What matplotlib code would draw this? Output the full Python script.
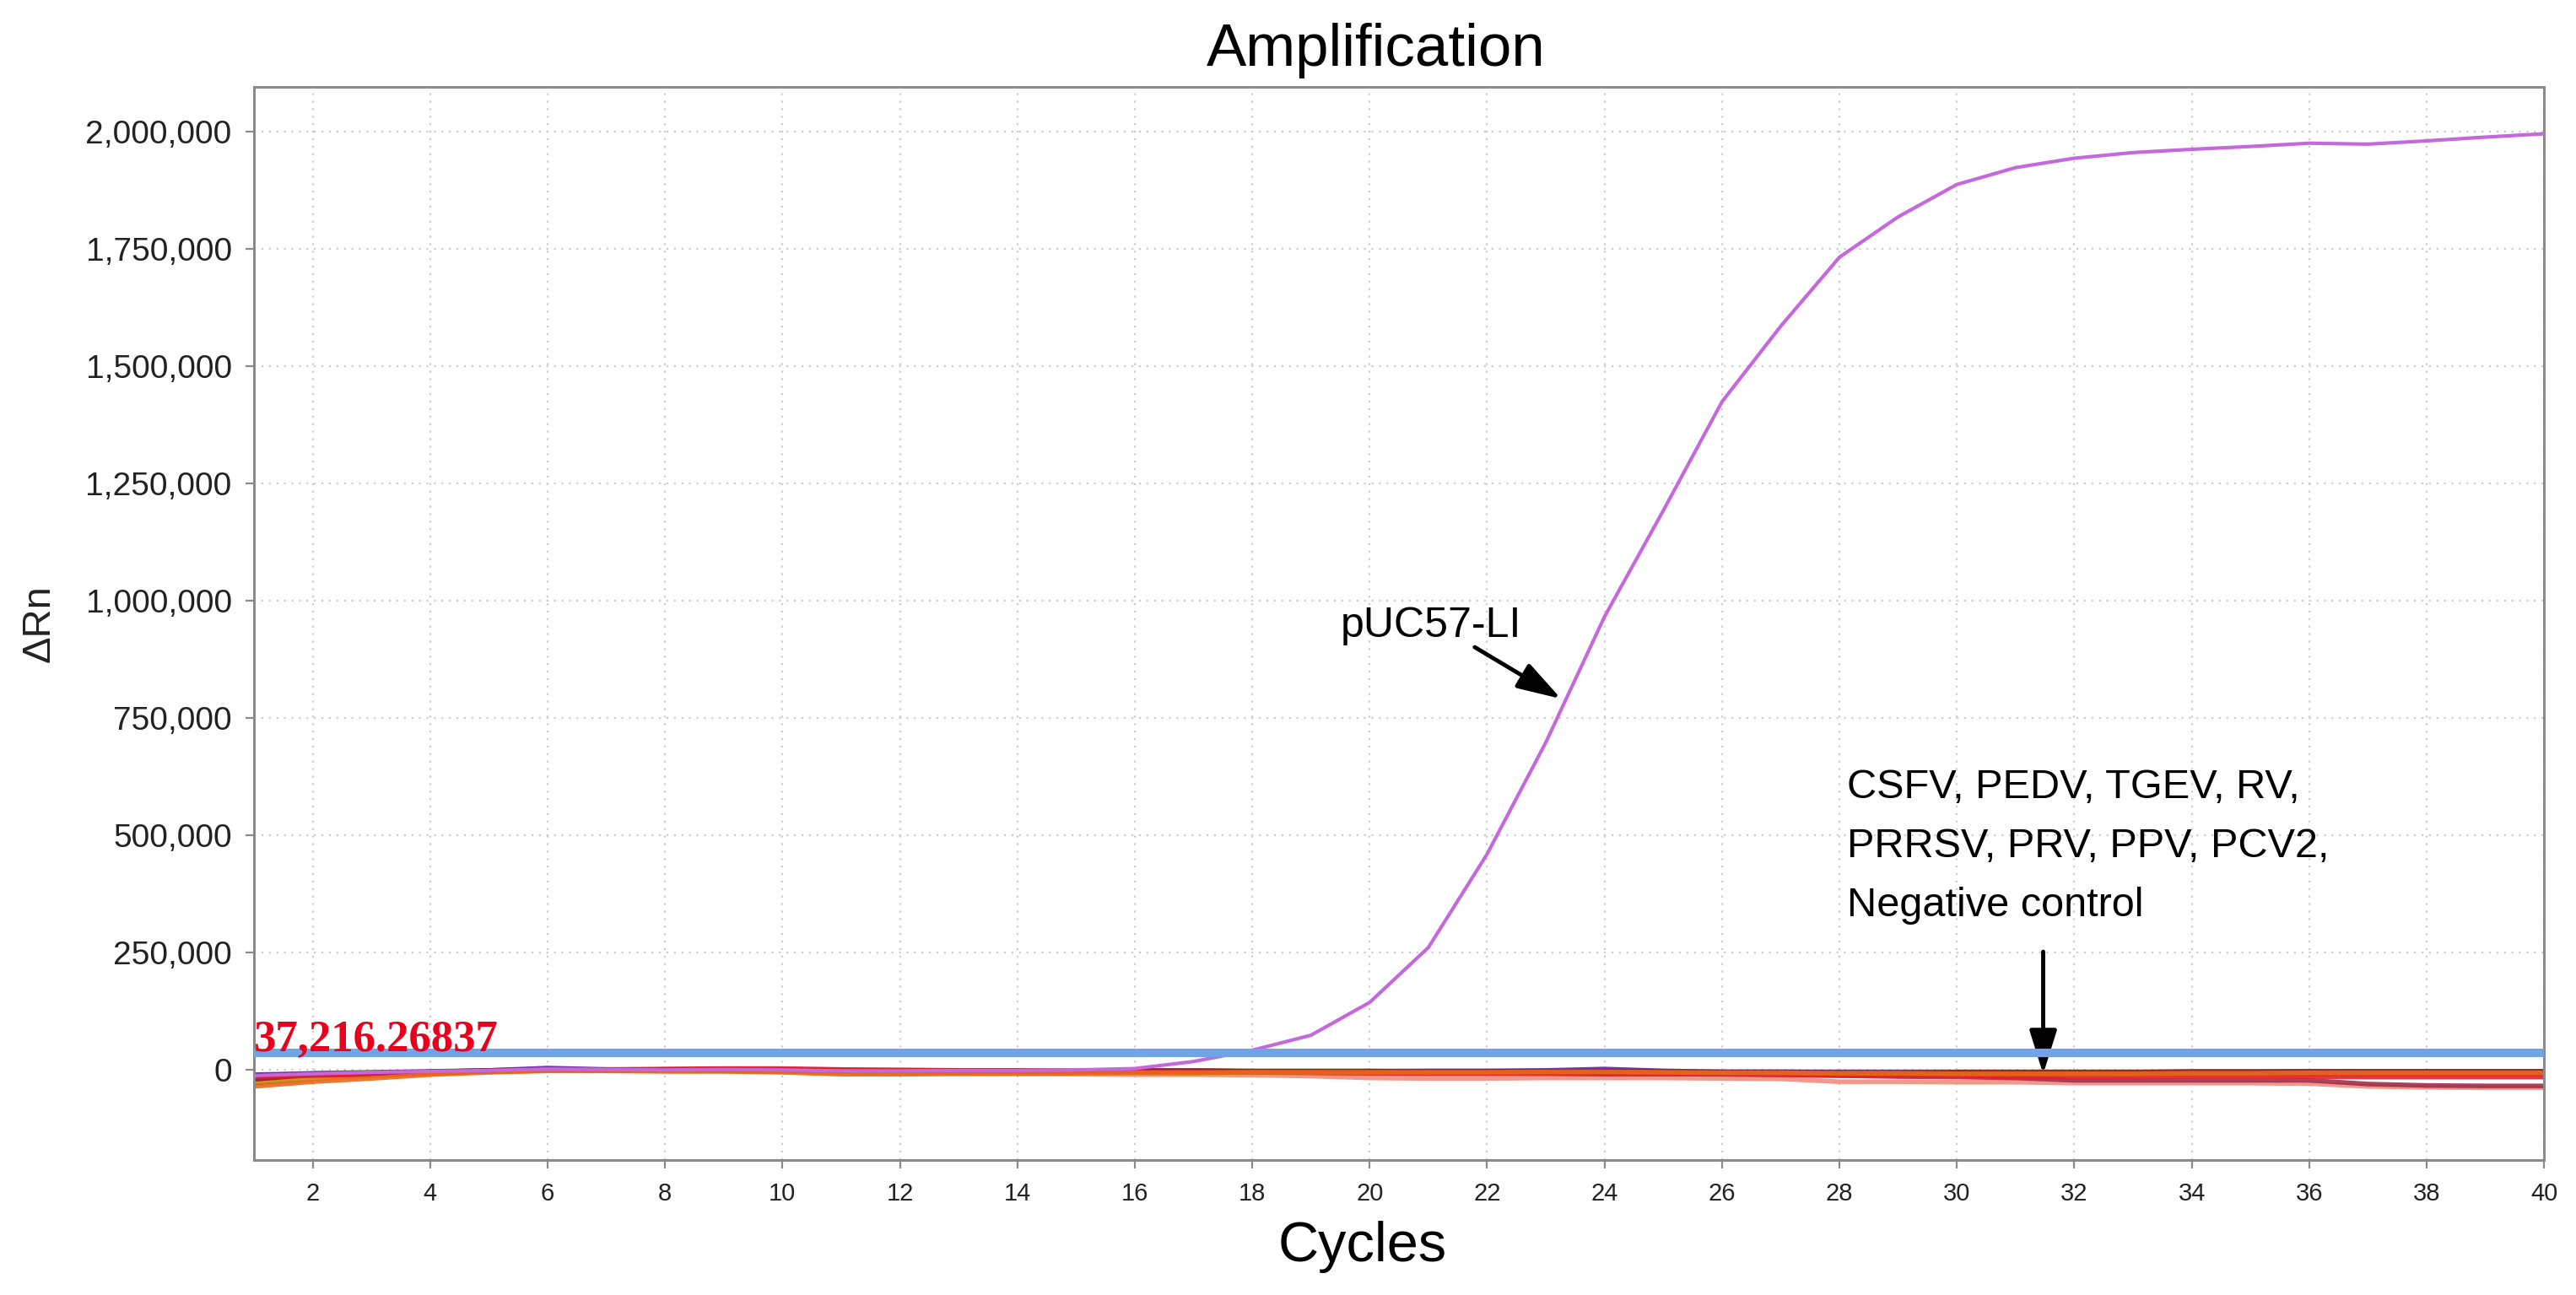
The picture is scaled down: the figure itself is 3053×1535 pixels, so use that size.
import numpy as np
import matplotlib.pyplot as plt
from matplotlib.ticker import FuncFormatter, MultipleLocator

cycles = np.arange(1, 41)

# pUC57-LI amplification curve
puc57 = [-12000, -8000, -5000, -3000, -1000, 2000, 1000, 0, 1000, 0,
         -2000, -2000, -1000, -1000, 0, 3000, 18000, 42000, 74000, 144000,
         261000, 460000, 698000, 966000, 1192000, 1424000, 1585000, 1732000, 1818000, 1887000,
         1923000, 1943000, 1955000, 1962000, 1968000, 1975000, 1973000, 1980000, 1988000, 1995000]

# non-target samples + negative control (values in thousands)
base_orange = [-35, -25, -18, -10, -5, -2, -2, -3, -3, -5, -9, -9, -8, -8, -7, -6, -6, -5, -5, -5,
               -5, -5, -4, -4, -5, -6, -6, -7, -7, -8, -8, -8, -8, -7, -7, -6, -6, -6, -6, -6]
base_darkred = [-20, -10, -8, -5, -2, 0, 0, 1, 2, 1, 0, 0, -1, -1, -2, -2, -2, -3, -3, -3,
                -4, -4, -3, -3, -4, -5, -5, -6, -6, -5, -5, -5, -5, -4, -4, -3, -3, -3, -3, -3]
base_red = [-15, -12, -10, -6, -3, 0, 1, 2, 3, 3, 1, -1, -2, -3, -3, -4, -4, -5, -6, -7,
            -8, -8, -8, -9, -9, -9, -10, -12, -12, -13, -15, -16, -15, -14, -14, -14, -15, -15, -15, -15]
base_gold = [-25, -15, -12, -7, -3, 0, -1, -2, -2, -3, -4, -5, -5, -6, -6, -6, -7, -6, -6, -7,
             -7, -7, -6, -5, -6, -6, -7, -8, -9, -9, -10, -10, -10, -9, -9, -9, -9, -9, -9, -9]
base_purple = [-10, -8, -6, -4, -1, 4, 1, 0, 0, -1, -2, -2, -3, -3, -3, -2, -2, -3, -3, -3,
               -2, -2, -1, 2, -2, -4, -4, -5, -5, -6, -6, -7, -7, -6, -6, -6, -5, -5, -5, -5]
base_salmon = [-30, -20, -12, -8, -4, -1, -1, -2, -2, -4, -6, -7, -8, -8, -9, -10, -10, -11, -13, -17,
               -18, -18, -17, -17, -17, -18, -19, -25, -25, -26, -26, -28, -28, -28, -28, -29, -35, -37, -38, -38]
base_maroon = [-18, -9, -7, -4, -1, 1, 0, 0, 1, 0, -1, -2, -2, -3, -3, -4, -4, -4, -5, -5,
               -5, -6, -6, -7, -8, -9, -10, -12, -14, -15, -17, -22, -22, -22, -22, -22, -30, -33, -34, -34]
base_brown = [-28, -14, -9, -6, -3, 0, 0, -1, -1, -2, -3, -4, -4, -4, -5, -5, -5, -4, -4, -4,
              -4, -5, -5, -6, -6, -6, -7, -7, -8, -8, -9, -9, -9, -8, -8, -8, -8, -8, -8, -8]
base_neg = [-12, -7, -5, -3, -1, 1, 1, 0, 0, -1, -1, -1, -2, -2, -2, -1, -1, -2, -2, -2,
            -3, -3, -3, -3, -3, -4, -4, -4, -4, -4, -4, -4, -4, -3, -3, -3, -3, -3, -3, -3]

baselines = [base_salmon, base_maroon, base_brown, base_neg, base_gold,
             base_purple, base_darkred, base_red, base_orange]
base_colors = ['#f08c80', '#a0304a', '#8b4a20', '#6a5a20', '#d0a020',
               '#6a1f9a', '#9a1a22', '#e3202c', '#e86a1a']

threshold = 37216.26837

fig = plt.figure(figsize=(30.53, 15.35), dpi=100)
ax = fig.add_axes([0.0986, 0.1042, 0.8890, 0.8287])

for vals, col in zip(baselines, base_colors):
    ax.plot(cycles, np.array(vals) * 1000, color=col, lw=4, alpha=0.9, zorder=2)

ax.plot(cycles, puc57, color='#c468dc', lw=3, zorder=3)
ax.axhline(threshold, color='#70a4e4', lw=7.2, zorder=4)

ax.text(1.0, 40000, '37,216.26837', color='#e8001c', fontsize=38,
        family='Liberation Serif', weight='bold', ha='left', va='baseline', zorder=5)

ax.set_xlim(1, 40)
ax.set_ylim(-192000, 2095000)
ax.xaxis.set_major_locator(MultipleLocator(2))
ax.yaxis.set_major_locator(MultipleLocator(250000))
ax.yaxis.set_major_formatter(FuncFormatter(lambda v, p: f'{int(v):,}'))

ax.grid(True, color='#cccccc', linestyle=(0, (1, 3)), lw=1.6)
ax.set_axisbelow(True)
for s in ax.spines.values():
    s.set_color('#8a8a8a')
    s.set_linewidth(2.2)
ax.tick_params(axis='both', direction='out', length=7, width=1.6, color='#8a8a8a')
ax.tick_params(axis='y', pad=12, labelsize=28)
ax.tick_params(axis='x', pad=12, labelsize=21)
for lab in ax.get_yticklabels() + ax.get_xticklabels():
    lab.set_family('Liberation Sans')
    lab.set_color('#222222')

ax.set_ylabel('ΔRn', fontsize=34, family='Liberation Sans', color='#222222', va='center')
ax.yaxis.set_label_coords(-0.0936, 0.5)

# annotations
ax.text(19.5, 922000, 'pUC57-LI', fontsize=36, family='Liberation Sans', ha='left', va='baseline')
ax.annotate('', xy=(23.26, 791000), xytext=(21.79, 901000),
            arrowprops=dict(arrowstyle='-|>,head_length=0.8,head_width=0.25',
                            color='black', lw=3.5, mutation_scale=40, shrinkA=0, shrinkB=0))
ax.text(28.13, 327000, 'CSFV, PEDV, TGEV, RV,\nPRRSV, PRV, PPV, PCV2,\nNegative control',
        fontsize=35, family='Liberation Sans', ha='left', va='baseline', linespacing=1.72)
ax.annotate('', xy=(31.47, -9000), xytext=(31.47, 252000),
            arrowprops=dict(arrowstyle='-|>,head_length=0.8,head_width=0.25',
                            color='black', lw=3.5, mutation_scale=40, shrinkA=0, shrinkB=0))

fig.text(0.534, 0.949, 'Amplification', fontsize=51, family='Liberation Sans',
         ha='center', va='baseline')
fig.text(0.529, 0.026, 'Cycles', fontsize=48, family='Liberation Sans',
         ha='center', va='baseline')

fig.savefig('out.png', dpi=100)
